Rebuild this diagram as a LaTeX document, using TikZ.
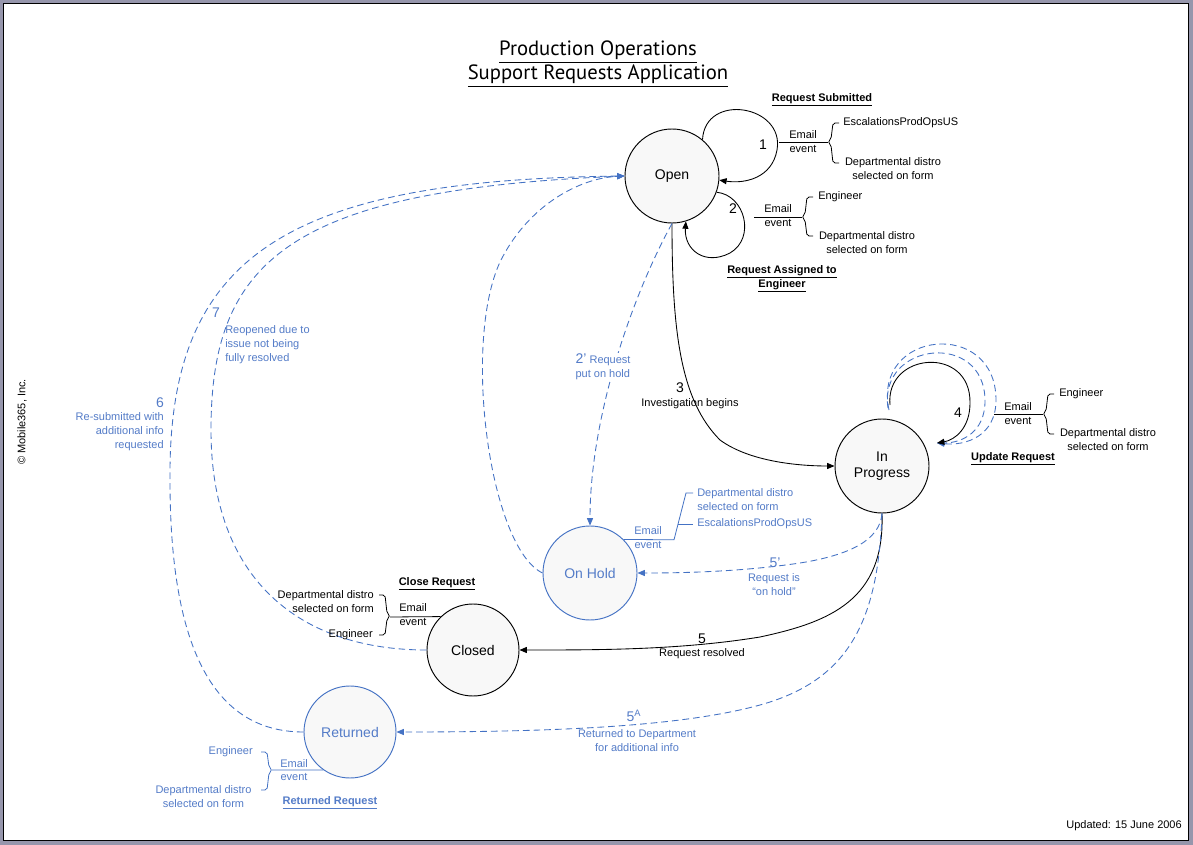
\documentclass[tikz,border=0pt]{standalone}
\usepackage{fontspec}
\setmainfont{Liberation Sans}
\newfontfamily\titlefont{PT Sans}
\usetikzlibrary{arrows.meta}
\definecolor{blu}{RGB}{68,114,196}
\definecolor{blutext}{RGB}{84,124,200}
\definecolor{nodefill}{RGB}{248,248,248}
\definecolor{framegray}{RGB}{150,150,172}
\newcommand\md{\fontsize{10.5}{12.5}\selectfont}
\newcommand\bracer[5][]{\draw[eline,rounded corners=1.5pt,#1] (#2+11,#3) -- (#2+5,#3) -- (#2+3,#4-3) -- (#2,#4) -- (#2+3,#4+3) -- (#2+5,#5) -- (#2+11,#5);}
\newcommand\bracel[5][]{\draw[eline,rounded corners=1.5pt,#1] (#2-11,#3) -- (#2-5,#3) -- (#2-3,#4-3) -- (#2,#4) -- (#2-3,#4+3) -- (#2-5,#5) -- (#2-11,#5);}
\begin{document}
\begin{tikzpicture}[x=0.75pt,y=-0.75pt,
  state/.style={circle,draw,line width=0.7pt,fill=nodefill,minimum size=70.5pt,inner sep=0pt,font=\md,align=center},
  bstate/.style={state,draw=blu,text=blutext},
  small/.style={font=\fontsize{8.25}{10.5}\selectfont,inner sep=0pt,align=center},
  num/.style={font=\md,inner sep=0pt},
  ttl/.style={font=\bfseries\fontsize{8.25}{10.5}\selectfont,inner sep=0pt,align=center},
  conn/.style={line width=0.65pt,-{Triangle[length=5.5pt,width=4.5pt]}},
  bconn/.style={conn,draw=blu,dash pattern=on 5pt off 3pt},
  eline/.style={line width=0.6pt},
]
% frame
\fill[framegray] (0,0) rectangle (1193,845);
\fill[white] (3,3) rectangle (1189,841);
\draw[line width=0.5pt] (3.3,3.3) rectangle (1188.7,840.7);
\useasboundingbox (0,0) rectangle (1193,845);

% title
\node[font=\titlefont\fontsize{15.5}{18}\selectfont,align=center,inner sep=0pt] (title) at (598,64)
  {\underline{Production Operations}\\\underline{Support Requests Application}};

% states
\node[state] (open) at (672,176) {Open};
\node[state] (prog) at (882,466) {In\\Progress};
\node[bstate] (hold) at (590,573) {On Hold};
\node[state,minimum size=69pt] (closed) at (473,650) {Closed};
\node[bstate,minimum size=69pt] (ret) at (350,732) {Returned};

% loop 1 and 2 on Open
\draw[conn] (open.50) .. controls (705,92) and (785,105) .. (777,150) .. controls (772,178) and (745,184) .. (open.-5);
\draw[conn] (open.-20) .. controls (745,195) and (756,238) .. (730,253) .. controls (705,266) and (684,250) .. (open.-73);
\node[num] (n1) at (763,145) {1};
\node[num] (n2) at (733,209) {2};

% email 1
\draw[eline] (779,142) -- (828,142);
\bracer{828}{123}{142}{163}
\node[small] (em1) at (803,135) {Email};
\node[small] (ev1) at (803,149) {event};
\node[small,anchor=west] (r1a) at (843,123) {EscalationsProdOpsUS};
\node[small] (r1b) at (893,169) {Departmental distro\\selected on form};
\node[ttl] (t1) at (822,100) {\underline{Request Submitted}};

% email 2
\draw[eline] (754,217) -- (802,217);
\bracer{802}{197}{217}{236}
\node[small] (em2) at (778,209) {Email};
\node[small] (ev2) at (778,223) {event};
\node[small,anchor=west] (r2a) at (818,197) {Engineer};
\node[small] (r2b) at (867,243) {Departmental distro\\selected on form};
\node[ttl] (t2) at (782,279) {\underline{Request Assigned to}\\\underline{Engineer}};

% loop 4 on In Progress
\coordinate (l4s) at (890,405);
\coordinate (l4e) at (937,443);
\coordinate (l4sa) at (888,408);
\coordinate (l4sb) at (889,410);
\draw[bconn] (l4sb) .. controls (872,330) and (996,318) .. (996,400) .. controls (996,436) and (966,446) .. (l4e);
\draw[bconn] (l4sa) .. controls (878,342) and (985,330) .. (985,401) .. controls (985,432) and (962,443) .. (l4e);
\draw[conn] (l4s) .. controls (885,352) and (971,345) .. (970,403) .. controls (970,428) and (955,440) .. (l4e);
\node[num] (n4) at (958,413) {4};
\draw[eline] (994,414) -- (1043,414);
\bracer{1043}{394}{414}{434}
\node[small] (em4) at (1018,407) {Email};
\node[small] (ev4) at (1018,421) {event};
\node[small,anchor=west] (r4a) at (1059,394) {Engineer};
\node[small] (r4b) at (1108,440) {Departmental distro\\selected on form};
\node[ttl] (t4) at (1013,459) {\underline{Update Request}};

% 3: Open -> In Progress
\draw[conn] (open.south) .. controls (672,330) and (680,400) .. (720,440) .. controls (750,462) and (800,466) .. (prog.west);
\node[num] (n3) at (680,388) {3};
\node[small] (l3) at (690,404) {Investigation begins};

% 2': Open -> On Hold
\draw[bconn] (open.south) .. controls (630,300) and (590,420) .. (hold.north);
\node[small,text=blutext,anchor=west,align=left,fill=white,inner sep=1pt] (l2p) at (574,367) {{\md 2'} Request\\put on hold};

% On Hold -> Open
\draw[bconn] (hold.west) .. controls (490,548) and (462,345) .. (500,262) .. controls (528,205) and (580,178) .. (open.west);

% On Hold email
\draw[eline,blu] (hold.45) -- (674,539.8) -- (686,493) -- (693,493);
\draw[eline,blu] (677.7,524) -- (693,524);
\node[small,text=blutext] (emh) at (648,531) {Email};
\node[small,text=blutext] (evh) at (648,545) {event};
\node[small,text=blutext,anchor=west,align=left] (rha) at (697,500) {Departmental distro\\selected on form};
\node[small,text=blutext,anchor=west] (rhb) at (697,524) {EscalationsProdOpsUS};

% 5: In Progress -> Closed
\draw[conn] (prog.south) .. controls (885,600) and (830,622) .. (760,637) .. controls (680,650) and (600,650) .. (closed.east);
\node[num] (n5) at (702,639) {5};
\node[small] (l5) at (702,654) {Request resolved};

% 5': In Progress -> On Hold
\draw[bconn] (prog.south) .. controls (880,540) and (850,555) .. (800,563) .. controls (740,572) and (680,573) .. (hold.east);
\node[num,text=blutext] (n5p) at (775,563) {5'};
\node[small,text=blutext] (l5p) at (774,585) {Request is\\“on hold”};

% 5A: In Progress -> Returned
\draw[bconn] (prog.south) .. controls (878,620) and (850,680) .. (760,705) .. controls (680,727) and (550,732) .. (ret.east);
\node[num,text=blutext] (n5a) at (634,716) {5\textsuperscript{\fontsize{7}{8}\selectfont A}};
\node[small,text=blutext] (l5a) at (637,741) {Returned to Department\\for additional info};

% 6: Returned -> Open
\draw[bconn] (ret.west) .. controls (200,732) and (170,620) .. (170,480) .. controls (168,260) and (280,180) .. (open.west);
\node[num,text=blutext] (n6) at (160,403) {6};
\node[small,text=blutext,anchor=east,align=right] (l6) at (164,432) {Re-submitted with\\additional info\\requested};

% 7: Closed -> Open
\draw[bconn] (closed.west) .. controls (300,650) and (211,580) .. (211,430) .. controls (211,260) and (290,190) .. (open.west);
\node[num,text=blutext] (n7) at (216,313) {7};
\node[small,text=blutext,anchor=west,align=left] (l7) at (225,345) {Reopened due to\\issue not being\\fully resolved};

% Closed email
\draw[eline] (closed.134) -- (390,617);
\bracel{390}{595}{616}{635}
\node[small] (emc) at (413,608) {Email};
\node[small] (evc) at (413,622) {event};
\node[small,anchor=east,align=right] (rca) at (374,602) {Departmental distro\\selected on form};
\node[small,anchor=east] (rcb) at (373,635) {Engineer};
\node[ttl] (tc) at (437,584) {\underline{Close Request}};

% Returned email
\draw[eline,blu] (ret.235.6) -- (272,770);
\bracel[draw=blu]{272}{752}{770}{790}
\node[small,text=blutext] (emr) at (294,764) {Email};
\node[small,text=blutext] (evr) at (294,777) {event};
\node[small,text=blutext,anchor=east] (rra) at (253,752) {Engineer};
\node[small,text=blutext] (rrb) at (203.5,797) {Departmental distro\\selected on form};
\node[ttl,text=blutext] (tr) at (330,803) {\underline{Returned Request}};

% misc
\node[small,rotate=90] (copy) at (22,422) {© Mobile365, Inc.};
\node[small,anchor=east] (upd) at (1182,826) {Updated: 15 June 2006};
\end{tikzpicture}
\end{document}
